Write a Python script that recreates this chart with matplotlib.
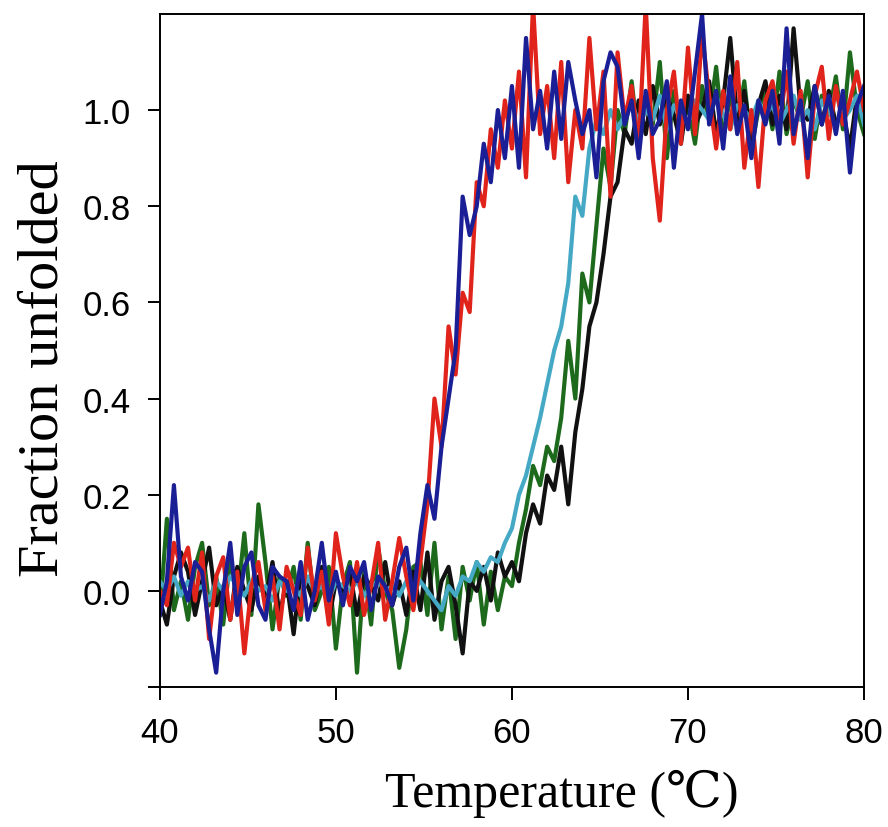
import numpy as np
import matplotlib
matplotlib.use("Agg")
import matplotlib.pyplot as plt

# temperature grid (deg C), one reading every 0.4 deg
temperature = np.round(np.arange(40, 80.001, 0.4), 1)

red = [0.00, -0.03, 0.10, 0.05, 0.09, -0.02, 0.08, -0.10, 0.03, 0.07,
       -0.06, 0.04, -0.13, 0.01, 0.06, -0.04, 0.03, -0.08, 0.05, 0.00,
       -0.05, 0.09, -0.02, 0.04, -0.07, 0.12, 0.03, -0.03, 0.06, -0.05,
       0.01, 0.10, -0.06, 0.02, 0.11, 0.03, -0.04, 0.06, 0.18, 0.40,
       0.30, 0.55, 0.45, 0.62, 0.58, 0.85, 0.80, 0.96, 0.88, 1.02,
       0.92, 1.08, 0.86, 1.22, 0.95, 1.05, 0.90, 1.10, 0.85, 1.00,
       0.92, 1.15, 0.96, 1.08, 0.82, 1.12, 0.98, 1.05, 0.92, 1.22,
       0.90, 0.77, 1.00, 1.08, 0.93, 1.13, 0.95, 1.16, 1.03, 0.92,
       1.04, 0.96, 1.10, 0.88, 1.00, 0.84, 1.02, 1.06, 0.97, 1.08,
       0.93, 1.04, 0.86, 1.03, 1.09, 0.94, 1.05, 0.97, 1.02, 1.08,
       1.00]

blue = [-0.05, 0.02, 0.22, 0.03, -0.02, 0.06, 0.04, -0.08, -0.17, 0.00,
        0.10, -0.05, 0.05, 0.08, -0.03, -0.06, 0.05, 0.03, 0.02, -0.04,
        0.06, -0.06, 0.00, 0.10, -0.02, 0.04, -0.03, 0.05, 0.02, 0.06,
        -0.04, 0.03, 0.01, -0.03, 0.05, 0.09, -0.02, 0.12, 0.22, 0.15,
        0.30, 0.40, 0.50, 0.82, 0.74, 0.80, 0.93, 0.85, 1.00, 0.90,
        1.05, 0.88, 1.15, 0.96, 1.04, 0.92, 1.08, 0.94, 1.10, 1.02,
        0.95, 1.00, 0.86, 1.06, 1.12, 1.09, 0.97, 1.02, 0.90, 1.04,
        0.95, 0.98, 1.06, 0.88, 1.02, 0.96, 1.08, 1.20, 0.97, 1.04,
        0.92, 1.07, 0.95, 1.01, 0.90, 1.02, 0.97, 1.04, 0.93, 1.17,
        0.95, 1.02, 0.90, 1.05, 0.97, 1.03, 0.95, 1.04, 0.87, 1.01,
        1.05]

cyan = [0.02, 0.00, 0.03, -0.01, 0.02, 0.00, 0.01, -0.02, 0.02, 0.00,
        0.03, 0.01, -0.01, 0.02, 0.00, 0.01, -0.02, 0.02, 0.00, 0.01,
        -0.01, 0.03, 0.00, 0.01, -0.02, 0.02, 0.01, 0.00, 0.02, -0.01,
        0.01, 0.02, 0.00, 0.01, -0.01, 0.02, 0.00, 0.02, 0.00, -0.02,
        -0.04, 0.01, -0.01, 0.03, 0.02, 0.06, 0.04, 0.07, 0.06, 0.10,
        0.13, 0.20, 0.24, 0.30, 0.36, 0.43, 0.50, 0.55, 0.64, 0.82,
        0.78, 0.92, 0.98, 0.95, 1.00, 0.96, 0.99, 1.02, 0.97, 1.00,
        0.98, 1.03, 0.96, 1.01, 0.99, 0.97, 1.02, 1.00, 0.98, 1.03,
        0.99, 0.96, 1.01, 1.00, 0.98, 1.02, 0.99, 1.01, 0.97, 1.00,
        1.03, 0.98, 1.00, 0.96, 1.02, 0.99, 1.04, 0.98, 1.00, 1.03,
        0.97]

green = [-0.05, 0.15, -0.04, 0.02, -0.06, 0.05, 0.10, -0.03, 0.03, -0.07,
         0.07, -0.02, 0.12, -0.05, 0.18, 0.06, -0.08, 0.03, -0.01, 0.05,
         -0.06, 0.10, -0.04, 0.00, 0.05, -0.12, 0.01, 0.06, -0.17, 0.04,
         -0.07, 0.09, 0.00, -0.04, -0.16, -0.08, 0.05, 0.06, -0.05, 0.10,
         -0.08, 0.03, -0.10, 0.05, -0.02, 0.06, -0.07, 0.04, -0.04, 0.03,
         0.01, 0.10, 0.17, 0.26, 0.22, 0.30, 0.27, 0.36, 0.52, 0.40,
         0.66, 0.60, 0.76, 0.92, 0.84, 1.00, 0.95, 1.06, 0.93, 1.02,
         0.97, 1.10, 0.90, 1.04, 0.96, 1.01, 0.93, 1.05, 0.98, 1.09,
         0.94, 1.03, 0.97, 1.06, 0.92, 1.00, 1.04, 0.96, 1.08, 0.95,
         1.02, 0.98, 1.06, 0.94, 1.03, 0.99, 1.07, 0.96, 1.12, 1.00,
         0.95]

black = [-0.02, -0.07, 0.03, 0.08, 0.04, -0.05, 0.02, 0.09, -0.03, 0.01,
         -0.06, 0.05, 0.00, -0.04, 0.03, -0.02, 0.06, -0.05, 0.02, -0.09,
         0.04, 0.01, -0.03, 0.05, -0.06, 0.02, 0.00, 0.04, -0.05, 0.03,
         0.01, -0.02, 0.06, -0.03, 0.02, -0.05, 0.04, -0.04, 0.08, -0.06,
         0.02, 0.05, -0.03, -0.13, 0.02, 0.00, 0.05, -0.02, 0.08, 0.03,
         0.06, 0.02, 0.12, 0.18, 0.14, 0.24, 0.21, 0.30, 0.18, 0.33,
         0.42, 0.55, 0.60, 0.70, 0.82, 0.85, 0.96, 0.93, 1.02, 0.95,
         1.05, 0.97, 1.03, 0.99, 0.93, 1.03, 0.97, 1.00, 1.06, 0.95,
         1.02, 1.15, 0.98, 1.04, 0.94, 1.01, 1.06, 0.97, 1.03, 0.96,
         1.17, 1.00, 0.98, 1.05, 0.97, 1.04, 0.97, 1.00, 0.92, 1.03,
         0.99]

yticks = [-0.2, 0.0, 0.2, 0.4, 0.6, 0.8, 1.0]
ytick_labels = ['', '0.0', '0.2', '0.4', '0.6', '0.8', '1.0']
xticks = [40, 50, 60, 70, 80]

fig = plt.figure(figsize=(8.88, 8.28), dpi=100)
ax = fig.add_axes([0.180, 0.169, 0.793, 0.813])

lw = 3.0
ax.plot(temperature, green, color='#1d6a1d', lw=lw)
ax.plot(temperature, black, color='#111111', lw=lw)
ax.plot(temperature, cyan, color='#45a9c6', lw=lw)
ax.plot(temperature, red, color='#e0231b', lw=lw)
ax.plot(temperature, blue, color='#1b1f95', lw=lw)

ax.set_xlim(40, 80)
ax.set_ylim(-0.2, 1.2)
ax.set_xticks(xticks)
ax.set_yticks(yticks)
ax.set_yticklabels(ytick_labels)
ax.tick_params(direction='out', length=9, width=1.4, labelsize=25, pad=12)
for lab in ax.get_xticklabels() + ax.get_yticklabels():
    lab.set_family('Liberation Sans')
for sp in ax.spines.values():
    sp.set_linewidth(1.4)

ax.set_xlabel('Temperature (\u2103)', family=['Liberation Serif', 'DejaVu Serif'],
              fontsize=36)
ax.set_ylabel('Fraction unfolded', family=['Liberation Serif', 'DejaVu Serif'],
              fontsize=42)
ax.xaxis.set_label_coords(0.571, -0.122)
ax.yaxis.set_label_coords(-0.128, 0.475)

fig.savefig('out.png', dpi=100)
